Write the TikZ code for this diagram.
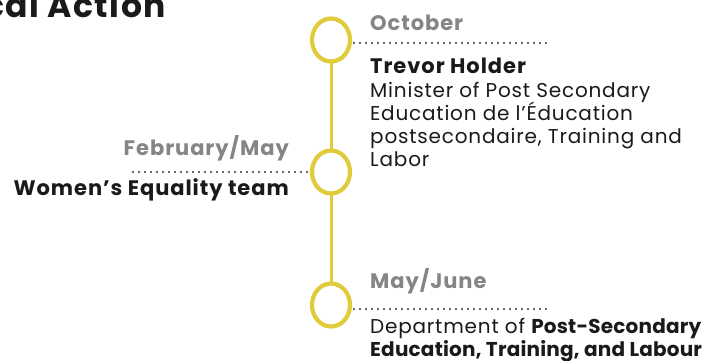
\documentclass[tikz,border=0pt]{standalone}
\usepackage{fontspec}
\setmainfont{Poppins}
\newfontfamily\bodyfont[LetterSpace=4]{Poppins}
\newfontfamily\bodybold[LetterSpace=1]{Poppins}
\newfontfamily\headfont[LetterSpace=4.5]{Poppins}
\newcommand\bodyemph[1]{{\bodybold\bfseries #1}}
\usetikzlibrary{shapes.geometric}
\definecolor{tlyellow}{HTML}{E0CC3A}
\definecolor{tlgray}{HTML}{858585}
\definecolor{dotgray}{HTML}{6A6A6A}
\definecolor{ink}{HTML}{1A1A1A}
\begin{document}
\begin{tikzpicture}[x=1pt,y=-1pt,
  ring/.style={draw=tlyellow,line width=4.2pt,ellipse,minimum width=38pt,minimum height=43pt,inner sep=0pt,fill=white},
  spine/.style={draw=tlyellow,line width=3pt},
  leader/.style={draw=dotgray,line width=2.4pt,dash pattern=on 2.2pt off 3.8pt},
  month/.style={inner sep=0pt,text=tlgray,font=\headfont\fontsize{21}{23}\selectfont\bfseries},
  who/.style={inner sep=0pt,text=ink,font=\headfont\fontsize{21}{23}\selectfont\bfseries},
  body/.style={inner sep=0pt,text=ink,align=left,font=\bodyfont\fontsize{20}{23.3}\selectfont},
  title/.style={inner sep=0pt,text=ink,font=\headfont\fontsize{33}{36}\selectfont\bfseries}]
\useasboundingbox (0,0) rectangle (705,360);
\clip (0,0) rectangle (705,360);
\node[title,anchor=base east] (ttl) at (166,17) {cal Action};
% spine
\coordinate (s1) at (331,40);
\coordinate (s3) at (331,305);
\draw[spine] (s1) -- (s3);
\node[ring] (c1) at (331,40) {};
\node[ring] (c2) at (331,172) {};
\node[ring] (c3) at (331,305) {};
% leaders
\coordinate (l1) at (549,43);
\coordinate (l2) at (132,172);
\coordinate (l3) at (549,309);
\draw[leader] ([xshift=1pt]c1.east |- l1) -- (l1);
\draw[leader] (l2) -- ([xshift=-1pt]c2.west);
\draw[leader] ([xshift=1pt]c3.east |- l3) -- (l3);
% texts
\node[month,anchor=base west] (m1) at (370,30) {October};
\node[who,anchor=base west] (w1) at (370,73) {Trevor Holder};
\node[body,anchor=base west] (b1) at (370,97) {Minister of Post Secondary};
\node[body,anchor=base west] (b2) at (370,120.3) {Education de l’Éducation};
\node[body,anchor=base west] (b3) at (370,143.6) {postsecondaire, Training and};
\node[body,anchor=base west] (b4) at (370,166.9) {Labor};
\node[month,anchor=base east] (m2) at (289,155) {February/May};
\node[who,anchor=base east] (w2) at (289,195) {Women’s Equality team};
\node[month,anchor=base west] (m3) at (370,288) {May/June};
\node[body,anchor=base west] (b5) at (370,333) {Department of \bodyemph{Post-Secondary}};
\node[body,anchor=base west] (b6) at (370,356) {\bodyemph{Education, Training, and Labour}};
\end{tikzpicture}
\end{document}
